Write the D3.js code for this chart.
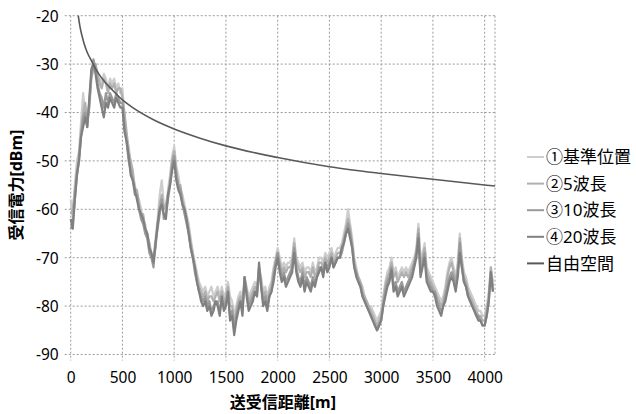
<!DOCTYPE html>
<html>
<head>
<meta charset="utf-8">
<script src="https://cdn.jsdelivr.net/npm/d3@7"></script>
<style>
  html, body { margin: 0; padding: 0; background: #fff; }
  svg { display: block; }
  text { font-family: "Noto Sans", "Noto Sans CJK JP", sans-serif; fill: #000; }
</style>
</head>
<body>
<svg id="chart" width="636" height="414"></svg>
<script>
// Distance sampling of the measured series (m)
const stepM = 20;

// Received power (dBm), one value every 20 m from 0 m
const ref1 = [
  -58, -62, -55, -50, -48, -42, -36, -40, -41, -38,
  -32, -30, -31, -33, -33, -34, -32, -33, -35, -33,
  -34, -33, -35, -34, -36, -35, -41, -45, -47, -51,
  -53, -55, -57, -58, -60, -62, -63, -66, -67, -69,
  -70, -66, -62, -57, -54, -59, -60, -56, -53, -49,
  -47, -51, -53, -56, -57, -59, -61, -63, -66, -69,
  -71, -73, -75, -76, -77, -76, -78, -77, -76, -78,
  -77, -76, -78, -76, -78, -77, -75, -78, -79, -82,
  -80, -78, -77, -79, -74, -76, -78, -77, -76, -75,
  -76, -72, -74, -77, -76, -78, -76, -75, -72, -70,
  -68, -70, -72, -71, -72, -71, -71, -70, -66, -70,
  -71, -72, -71, -73, -72, -72, -73, -71, -73, -72,
  -70, -70, -71, -69, -70, -69, -68, -70, -69, -68,
  -68, -67, -65, -63, -60, -63, -66, -70, -72, -74,
  -75, -76, -78, -79, -80, -80, -81, -82, -83, -82,
  -81, -78, -75, -73, -72, -70, -73, -72, -74, -73,
  -72, -73, -72, -73, -72, -71, -70, -68, -63, -70,
  -69, -67, -72, -73, -74, -75, -76, -77, -78, -79,
  -78, -76, -73, -71, -70, -72, -74, -71, -65, -70,
  -73, -74, -76, -77, -78, -79, -80, -81, -81, -82,
  -82, -80, -77, -72, -75
];
const ref2 = [
  -61, -60, -56, -52, -49, -44, -40, -38, -42, -39,
  -33, -31, -30, -32, -34, -35, -33, -34, -36, -34,
  -35, -34, -36, -35, -35, -37, -40, -44, -48, -50,
  -52, -56, -56, -59, -61, -61, -64, -65, -67, -70,
  -70, -68, -63, -59, -57, -60, -59, -57, -54, -50,
  -48, -52, -55, -55, -58, -60, -62, -64, -67, -69,
  -72, -74, -76, -77, -78, -77, -79, -78, -78, -79,
  -78, -77, -79, -77, -79, -78, -76, -80, -80, -84,
  -81, -79, -78, -80, -75, -77, -79, -78, -77, -76,
  -77, -73, -75, -78, -77, -79, -77, -76, -73, -71,
  -69, -71, -73, -72, -73, -72, -72, -71, -67, -71,
  -72, -73, -72, -74, -73, -73, -74, -72, -74, -73,
  -71, -71, -72, -70, -71, -70, -69, -71, -70, -69,
  -69, -68, -66, -64, -62, -64, -67, -71, -73, -74,
  -75, -77, -78, -79, -80, -81, -82, -83, -84, -83,
  -82, -79, -76, -74, -73, -71, -74, -73, -75, -74,
  -73, -74, -73, -74, -73, -72, -71, -69, -64, -71,
  -70, -68, -73, -74, -75, -76, -77, -78, -79, -80,
  -79, -77, -74, -72, -71, -73, -75, -72, -66, -71,
  -74, -75, -77, -78, -79, -80, -81, -82, -82, -83,
  -83, -81, -78, -72, -76
];
const ref3 = [
  -64, -63, -58, -53, -50, -45, -41, -40, -43, -38,
  -32, -29, -31, -34, -36, -37, -39, -36, -38, -36,
  -37, -38, -36, -37, -38, -38, -43, -46, -50, -52,
  -54, -57, -57, -60, -62, -63, -65, -66, -69, -70,
  -72, -67, -64, -61, -58, -62, -61, -58, -55, -51,
  -49, -53, -55, -56, -59, -61, -63, -65, -68, -70,
  -73, -75, -77, -78, -79, -78, -80, -79, -81, -80,
  -79, -79, -81, -79, -80, -79, -78, -82, -81, -85,
  -82, -80, -79, -81, -74, -77, -80, -79, -78, -77,
  -78, -72, -76, -79, -78, -80, -78, -77, -74, -71,
  -69, -72, -74, -73, -75, -74, -73, -72, -68, -72,
  -74, -75, -73, -76, -74, -75, -76, -74, -75, -74,
  -72, -72, -73, -71, -72, -71, -70, -72, -71, -70,
  -70, -69, -67, -65, -63, -65, -68, -72, -73, -75,
  -76, -78, -79, -80, -81, -82, -83, -84, -85, -84,
  -83, -80, -77, -75, -74, -72, -76, -75, -77, -76,
  -75, -77, -76, -75, -74, -73, -71, -69, -65, -73,
  -71, -69, -74, -75, -76, -77, -77, -79, -80, -81,
  -80, -78, -76, -74, -73, -74, -76, -73, -67, -72,
  -75, -76, -78, -79, -80, -81, -82, -82, -83, -84,
  -84, -82, -79, -73, -77
];
const ref4 = [
  -62, -64, -58, -53, -50, -45, -43, -41, -43, -37,
  -31, -30, -32, -35, -37, -39, -41, -38, -39, -37,
  -38, -39, -37, -38, -39, -39, -44, -46, -49, -53,
  -54, -56, -58, -60, -61, -62, -64, -65, -68, -69,
  -71, -67, -63, -60, -59, -61, -62, -57, -55, -52,
  -50, -54, -56, -57, -59, -60, -62, -65, -68, -70,
  -72, -75, -77, -79, -80, -79, -81, -80, -82, -81,
  -79, -80, -82, -78, -81, -80, -77, -83, -82, -86,
  -83, -81, -79, -82, -74, -78, -81, -80, -79, -77,
  -78, -71, -76, -80, -79, -81, -78, -77, -75, -72,
  -70, -73, -75, -74, -76, -75, -74, -73, -69, -73,
  -75, -76, -74, -77, -75, -76, -77, -75, -76, -74,
  -73, -72, -74, -71, -73, -72, -70, -72, -71, -70,
  -70, -68, -67, -65, -64, -66, -68, -72, -74, -75,
  -76, -78, -79, -80, -81, -82, -83, -84, -85, -84,
  -83, -80, -78, -76, -75, -72.5, -77, -76, -78, -77,
  -76, -78, -77, -76, -75, -74, -72, -70, -66, -74,
  -72, -70, -75, -76, -77, -77, -78, -80, -81, -82,
  -80, -79, -77, -75, -74, -75, -77, -74, -69, -72,
  -75, -76, -78, -79, -80, -81, -82, -83, -83, -84,
  -84, -82, -79, -73, -77
];

// Free-space reference curve (distance m, dBm)
const freeDist  = [73, 90, 110, 130, 160, 200, 250, 300, 400, 500, 600, 800, 1000, 1250, 1500, 2000, 2500, 3000, 3500, 4100];
const freePower = [-20, -22.3, -24.2, -25.8, -27.6, -29.3, -31.3, -32.9, -35.3, -37.4, -39.0, -41.5, -43.4, -45.3, -46.9, -49.3, -51.2, -52.6, -53.8, -55.2];

// Axis ticks
const xTicks = [0, 500, 1000, 1500, 2000, 2500, 3000, 3500, 4000];
const yTicks = [-20, -30, -40, -50, -60, -70, -80, -90];

const seriesNames  = ["①基準位置", "②5波長", "③10波長", "④20波長", "自由空間"];
const seriesColors = ["#cdcdcd", "#b0b0b0", "#999999", "#808080", "#595959"];

const svg = d3.select("#chart");
const plotL = 70.7, plotR = 495, plotT = 15.7, plotB = 354.5;

const x = d3.scaleLinear().domain([0, 4100]).range([plotL, plotR]);
const y = d3.scaleLinear().domain([-90, -20]).range([plotB, plotT]);

const grid = svg.append("g");
const gridStyle = s => s.attr("stroke", "#9a9a9a").attr("stroke-width", 1).attr("stroke-dasharray", "2,2");

// Horizontal gridlines (with short outer tick)
grid.selectAll("line.h").data(yTicks).join("line")
  .attr("x1", plotL - 6).attr("x2", plotR)
  .attr("y1", d => y(d)).attr("y2", d => y(d))
  .call(gridStyle);
// Vertical gridlines (with short outer tick)
grid.selectAll("line.v").data(xTicks).join("line")
  .attr("x1", d => x(d)).attr("x2", d => x(d))
  .attr("y1", plotT).attr("y2", plotB + 6)
  .call(gridStyle);
// Right frame edge
grid.append("line")
  .attr("x1", plotR).attr("x2", plotR).attr("y1", plotT).attr("y2", plotB)
  .call(gridStyle);

// Tick labels via d3 axes (plain hyphen-minus for negatives)
const plain = d => String(d);
const yAxis = svg.append("g")
  .attr("transform", `translate(${plotL - 12},0)`)
  .call(d3.axisLeft(y).tickValues(yTicks).tickSize(0).tickPadding(0).tickFormat(plain));
yAxis.select(".domain").remove();
yAxis.selectAll("text").attr("font-size", 15.5).attr("dy", "0.35em")
  .style("font-family", "'Noto Sans', sans-serif");

const xAxis = svg.append("g")
  .attr("transform", `translate(0,${plotB})`)
  .call(d3.axisBottom(x).tickValues(xTicks).tickSize(0).tickPadding(17).tickFormat(plain));
xAxis.select(".domain").remove();
xAxis.selectAll("text").attr("font-size", 15.5)
  .style("font-family", "'Noto Sans', sans-serif");

// Axis titles
svg.append("text")
  .attr("x", (plotL + plotR) / 2).attr("y", 408)
  .attr("text-anchor", "middle").attr("font-size", 16).attr("font-weight", "bold")
  .text("送受信距離[m]");
svg.append("text")
  .attr("transform", `translate(22,${(plotT + plotB) / 2}) rotate(-90)`)
  .attr("text-anchor", "middle").attr("font-size", 16).attr("font-weight", "bold")
  .text("受信電力[dBm]");

// Measured series
const line = d3.line()
  .x((d, i) => x(i * stepM))
  .y(d => y(d));
const measured = [ref1, ref2, ref3, ref4];
svg.append("g").selectAll("path").data(measured).join("path")
  .attr("d", d => line(d))
  .attr("fill", "none")
  .attr("stroke", (d, i) => seriesColors[i])
  .attr("stroke-width", 2.2)
  .attr("stroke-linejoin", "round");

// Free space curve
const freeLine = d3.line()
  .x(d => x(d[0])).y(d => y(d[1]))
  .curve(d3.curveMonotoneX);
svg.append("path")
  .attr("d", freeLine(d3.zip(freeDist, freePower)))
  .attr("fill", "none")
  .attr("stroke", seriesColors[4])
  .attr("stroke-width", 1.6);

// Legend
const legend = svg.append("g");
const lg = legend.selectAll("g").data(seriesNames).join("g")
  .attr("transform", (d, i) => `translate(527,${157 + i * 26.6})`);
lg.append("line")
  .attr("x1", 0).attr("x2", 17).attr("y1", 0).attr("y2", 0)
  .attr("stroke", (d, i) => seriesColors[i]).attr("stroke-width", 2);
lg.append("text")
  .attr("x", 19).attr("y", 0).attr("dy", "0.36em")
  .attr("font-size", 17)
  .text(d => d);
</script>
</body>
</html>
